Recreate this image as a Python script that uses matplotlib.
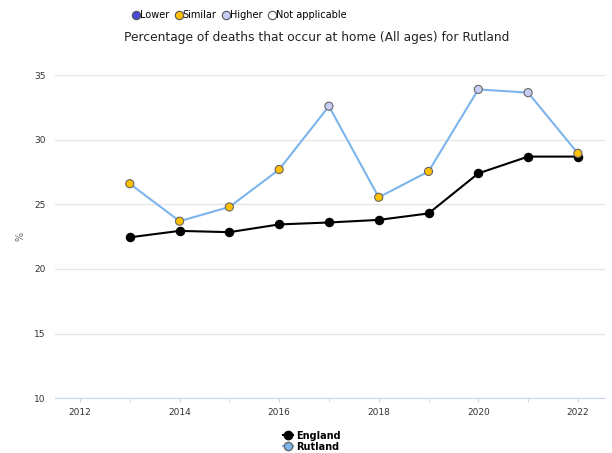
import matplotlib
matplotlib.use("Agg")
import matplotlib.pyplot as plt
from matplotlib.lines import Line2D

years = [2013, 2014, 2015, 2016, 2017, 2018, 2019, 2020, 2021, 2022]
england = [22.45, 22.95, 22.85, 23.45, 23.6, 23.8, 24.3, 27.4, 28.7, 28.7]
rutland = [26.6, 23.7, 24.8, 27.7, 32.6, 25.55, 27.55, 33.9, 33.65, 28.95]
rutland_cmp = ["Similar", "Similar", "Similar", "Similar", "Higher",
               "Similar", "Similar", "Higher", "Higher", "Similar"]

cmp_colors = {"Lower": "#4a4ad8", "Similar": "#ffc000",
              "Higher": "#c6cef8", "Not applicable": "#ffffff"}

fig = plt.figure(figsize=(6.12, 4.53), dpi=100)
ax = fig.add_axes([0.09, 0.121, 0.899, 0.713])

ax.plot(years, england, color="black", lw=1.5, zorder=3)
ax.scatter(years, england, s=34, color="black", edgecolor="black", zorder=4)
ax.plot(years, rutland, color="#7cb5ec", lw=1.5, zorder=3)
ax.scatter(years, rutland, s=34, c=[cmp_colors[c] for c in rutland_cmp],
           edgecolor="#666666", linewidth=0.8, zorder=5)

ax.set_xlim(2011.5, 2022.55)
ax.set_ylim(10, 35)
ax.set_yticks([10, 15, 20, 25, 30, 35])
ax.set_xticks(range(2012, 2023, 2))
ax.set_xticks(range(2012, 2023), minor=True)
ax.grid(axis="y", color="#e6e6e6", lw=1)
ax.set_axisbelow(True)
for s in ["top", "right", "left"]:
    ax.spines[s].set_visible(False)
ax.spines["bottom"].set_color("#ccd6eb")
ax.tick_params(axis="y", length=0, labelsize=6.5, labelcolor="#333333", pad=7)
ax.tick_params(axis="x", which="both", length=3, color="#ccd6eb",
               labelsize=6.5, labelcolor="#333333", pad=4)
ax.set_ylabel("%", fontsize=7, color="#666666", labelpad=6)

fig.text(0.517, 0.918, "Percentage of deaths that occur at home (All ages) for Rutland",
         ha="center", va="center", fontsize=8.8, color="#222222")

# comparison key at top
key = [Line2D([], [], marker="o", ls="", markersize=6, markerfacecolor=cmp_colors[k],
              markeredgecolor="#555555", markeredgewidth=0.8) for k in cmp_colors]
fig.legend(key, list(cmp_colors), loc="center", bbox_to_anchor=(0.392, 0.967),
           ncol=4, frameon=False, fontsize=7, handlelength=0.6, handletextpad=0.1,
           columnspacing=0.7)

# series legend at bottom
ser = [Line2D([], [], color="black", marker="o", markersize=6, lw=1.5),
       Line2D([], [], color="#7cb5ec", marker="o", markersize=6, lw=1.5,
              markerfacecolor="#7cb5ec", markeredgecolor="#666666")]
leg = fig.legend(ser, ["England", "Rutland"], loc="center", bbox_to_anchor=(0.51, 0.026),
                 ncol=1, frameon=False, fontsize=7, handlelength=1.0,
                 handletextpad=0.3, labelspacing=0.1)
for t in leg.get_texts():
    t.set_fontweight("bold")

fig.savefig("out.png", dpi=100)
